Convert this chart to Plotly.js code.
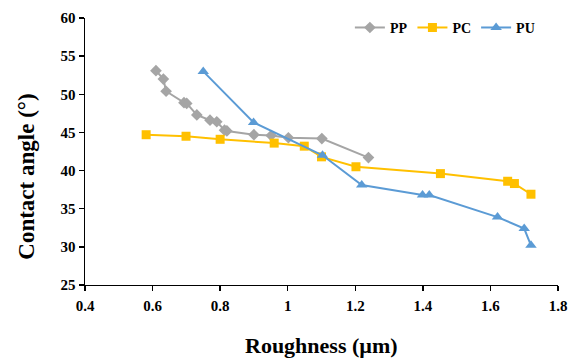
<!DOCTYPE html>
<html>
<head>
<meta charset="utf-8">
<script src="https://cdn.plot.ly/plotly-3.0.1.min.js"></script>
<style>html,body{margin:0;padding:0;background:#fff;}#chart{width:581px;height:359px;}</style>
</head>
<body>
<div id="chart"></div>
<script>
// Data
const ppX = [0.61, 0.632, 0.64, 0.693, 0.701, 0.731, 0.770, 0.790, 0.813, 0.82, 0.900, 0.951, 1.002, 1.101, 1.239];
const ppY = [53.1, 52.0, 50.4, 48.9, 48.8, 47.3, 46.6, 46.4, 45.3, 45.2, 44.7, 44.6, 44.3, 44.2, 41.7];

const pcX = [0.581, 0.699, 0.800, 0.960, 1.049, 1.100, 1.202, 1.452, 1.651, 1.671, 1.720];
const pcY = [44.7, 44.5, 44.1, 43.6, 43.2, 41.8, 40.5, 39.6, 38.6, 38.3, 36.9];

const puX = [0.750, 0.899, 1.103, 1.219, 1.399, 1.419, 1.621, 1.700, 1.720];
const puY = [53.0, 46.3, 42.0, 38.1, 36.8, 36.8, 33.9, 32.4, 30.2];

const xTicks = [0.4, 0.6, 0.8, 1, 1.2, 1.4, 1.6, 1.8];
const yTicks = [25, 30, 35, 40, 45, 50, 55, 60];

const serif = "Liberation Serif, Times New Roman, serif";

const traces = [
  {x: ppX, y: ppY, name: "PP", type: "scatter", mode: "lines+markers",
   line: {color: "#A5A5A5", width: 2}, marker: {symbol: "diamond", size: 9, color: "#A5A5A5"}},
  {x: pcX, y: pcY, name: "PC", type: "scatter", mode: "lines+markers",
   line: {color: "#FFC000", width: 2}, marker: {symbol: "square", size: 9, color: "#FFC000"}},
  {x: puX, y: puY, name: "PU", type: "scatter", mode: "lines+markers",
   line: {color: "#5B9BD5", width: 2}, marker: {symbol: "triangle-up", size: 10, color: "#5B9BD5"}}
];

const layout = {
  width: 581, height: 359,
  margin: {l: 85, r: 23, t: 16, b: 74},
  paper_bgcolor: "#fff", plot_bgcolor: "#fff",
  font: {family: serif, color: "#000", size: 15},
  showlegend: true,
  legend: {orientation: "h", x: 0.56, xanchor: "left", y: 0.963, yanchor: "middle",
           font: {family: serif, size: 14, color: "#000", weight: "bold"},
           itemwidth: 30, tracegroupgap: 0, bgcolor: "rgba(0,0,0,0)"},
  xaxis: {range: [0.4, 1.8], tickvals: xTicks, ticktext: xTicks.map(String),
          showgrid: false, zeroline: false, showline: true, linecolor: "#000", linewidth: 1.4,
          ticks: "outside", ticklen: 5, tickcolor: "#000", tickwidth: 1.4, ticklabelstandoff: 2,
          tickfont: {family: serif, size: 15, color: "#000", weight: "bold"}},
  yaxis: {range: [25, 60], tickvals: yTicks, ticktext: yTicks.map(String),
          showgrid: false, zeroline: false, showline: true, linecolor: "#000", linewidth: 1.4,
          ticks: "outside", ticklen: 5, tickcolor: "#000", tickwidth: 1.4,
          tickfont: {family: serif, size: 15, color: "#000", weight: "bold"}},
  annotations: [
    {text: "Roughness (µm)", xref: "paper", yref: "paper", x: 0.5, y: -0.227,
     xanchor: "center", yanchor: "middle", showarrow: false,
     font: {family: serif, size: 22, color: "#000", weight: "bold"}},
    {text: "Contact angle (°)", xref: "paper", yref: "paper", x: -0.123, y: 0.405,
     xanchor: "center", yanchor: "middle", showarrow: false, textangle: -90,
     font: {family: serif, size: 23, color: "#000", weight: "bold"}}
  ]
};

Plotly.newPlot("chart", traces, layout, {displayModeBar: false, staticPlot: true});
</script>
</body>
</html>
